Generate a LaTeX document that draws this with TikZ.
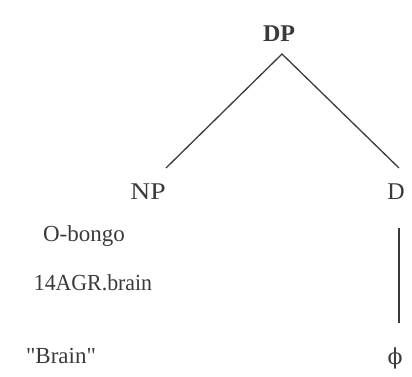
\documentclass[tikz,border=0pt]{standalone}
\usepackage{fontspec}
\setmainfont{Liberation Serif}[Ligatures=TeXOff]
\newfontfamily\symfont{DejaVu Serif}
\definecolor{ink}{HTML}{3A3A3A}
\begin{document}
\begin{tikzpicture}[x=1pt,y=-1pt,
  lbl/.style={inner sep=0pt,text=ink,font=\fontsize{23}{26}\selectfont},
  edge/.style={draw=ink,line width=1.3pt}]
\useasboundingbox (0,0) rectangle (412,376);
\node[lbl,font=\fontsize{24}{26}\selectfont\bfseries] (dp) at (279,34) {DP};
\coordinate (apex) at (282,54);
\coordinate (npt) at (166,168);
\coordinate (dt) at (399,168);
\node[lbl,xscale=1.15,font=\fontsize{24}{26}\selectfont] (np) at (148,192) {NP};
\node[lbl,font=\fontsize{24}{26}\selectfont] (d) at (396,192) {D};
\node[lbl] (w1) at (84,236) {O-bongo};
\node[lbl,xscale=0.95] (w2) at (93,283) {14AGR.brain};
\node[lbl] (w3) at (61,356) {"Brain"};
\node[lbl,font=\symfont\fontsize{22}{26}\selectfont] (phi) at (395,358) {ϕ};
\coordinate (vt) at (399,228);
\coordinate (vb) at (399,323);
\draw[edge] (npt) -- (apex) -- (dt);
\draw[edge] (vt) -- (vb);
\end{tikzpicture}
\end{document}
